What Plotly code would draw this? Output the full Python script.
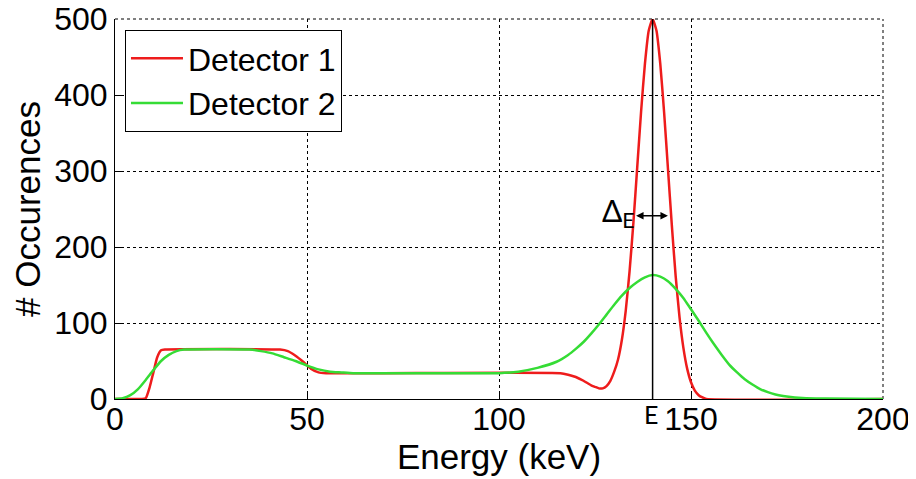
import plotly.graph_objects as go

# Detector 1 (red)
det1_x = [0, 7, 8, 9, 10, 11, 12, 13, 43, 45, 47, 49, 51, 53, 55, 116, 118, 120, 122, 124,
          125, 126, 127, 128, 129, 130, 131, 132, 133, 134, 135, 136, 137, 138, 139, 140,
          141, 142, 143, 144, 145, 146, 147, 148, 149, 150, 151, 152, 153, 154, 200]
det1_y = [0, 0, 1, 15, 35, 55, 64, 65, 65, 63, 57, 49, 40, 35, 34, 34, 32, 29, 24, 18,
          16, 14, 14, 17, 24, 36, 52, 78, 116, 168, 232, 305, 378, 441, 485, 500,
          485, 441, 377, 303, 229, 162, 108, 68, 40, 22, 11, 5, 2, 0, 0]

# Detector 2 (green)
det2_x = [0, 2, 4, 6, 8, 10, 12, 14, 16, 18, 35, 38, 41, 44, 47, 50, 53, 56, 59, 62, 65,
          100, 105, 110, 115, 118, 120, 122, 124, 126, 128, 130, 132, 134, 136, 138, 140,
          142, 144, 146, 148, 150, 152, 154, 156, 158, 160, 162, 164, 166, 168, 170, 172,
          174, 176, 178, 180, 185, 200]
det2_y = [0, 1, 5, 13, 25, 38, 50, 58, 63, 65, 65, 63, 60, 55, 50, 44, 39, 36, 35, 34, 34,
          34, 36, 41, 49, 58, 66, 75, 86, 98, 111, 124, 136, 146, 154, 160, 163,
          161, 155, 145, 133, 118, 103, 87, 72, 58, 45, 35, 26, 19, 13, 9, 6,
          4, 2.6, 1.6, 1, 0.5, 0]

x_ticks = [0, 50, 100, 150, 200]
y_ticks = [0, 100, 200, 300, 400, 500]
peak_E = 140
delta_left, delta_right, delta_y = 135.3, 144.0, 241

fig = go.Figure()
fig.add_trace(go.Scatter(x=det1_x, y=det1_y, mode="lines", name="Detector 1",
                         line=dict(color="#ee1c1c", width=2.5, shape="spline", smoothing=0.5)))
fig.add_trace(go.Scatter(x=det2_x, y=det2_y, mode="lines", name="Detector 2",
                         line=dict(color="#35dc35", width=2.5, shape="spline", smoothing=0.5)))

# dotted top / right box edges (MATLAB grid at range ends)
fig.add_shape(type="line", x0=0, x1=1, y0=1, y1=1, xref="paper", yref="paper",
              line=dict(color="black", width=1, dash="3px,3px"), layer="below")
fig.add_shape(type="line", x0=1, x1=1, y0=0, y1=1, xref="paper", yref="paper",
              line=dict(color="black", width=1, dash="3px,3px"), layer="below")

fig.add_shape(type="line", x0=peak_E, x1=peak_E, y0=0, y1=500, xref="x", yref="y",
              line=dict(color="black", width=1.5))

fig.add_annotation(x=delta_right, y=delta_y, ax=delta_left, ay=delta_y, axref="x", ayref="y",
                   xref="x", yref="y", text="", showarrow=True, arrowside="end+start",
                   arrowhead=2, arrowsize=1, arrowwidth=1.5, arrowcolor="black")
fig.add_annotation(x=delta_left, y=delta_y, xref="x", yref="y", text="Δ<sub>E</sub>",
                   showarrow=False, xanchor="right", yanchor="middle", xshift=1, yshift=4,
                   font=dict(family="Lato", size=30, color="black"))
fig.add_annotation(x=peak_E - 0.4, y=-0.04, xref="x", yref="paper", text="E",
                   showarrow=False, xanchor="center", yanchor="middle",
                   font=dict(family="Lato", size=25, color="black"))

axis_common = dict(showline=True, linecolor="black", linewidth=1, ticks="inside", ticklen=7,
                   tickcolor="black", showgrid=True, gridcolor="black", gridwidth=1,
                   griddash="3px,3px", zeroline=False, mirror=False, automargin=False,
                   ticklabeloverflow="allow",
                   tickfont=dict(family="Liberation Sans", size=32, color="black"))

fig.update_xaxes(range=[0, 200], tickvals=x_ticks, ticklabelstandoff=-8,
                 title=dict(text="Energy (keV)", standoff=0,
                            font=dict(family="Liberation Sans", size=35, color="black")),
                 **axis_common)
fig.update_yaxes(range=[0, 500], tickvals=y_ticks, ticklabelstandoff=0,
                 title=dict(text="# Occurences", standoff=19,
                            font=dict(family="Liberation Sans", size=35, color="black")),
                 **axis_common)

fig.update_layout(width=908, height=471, margin=dict(l=107, r=33, t=11, b=80),
                  plot_bgcolor="white", paper_bgcolor="white",
                  legend=dict(x=0.013, y=0.971, xanchor="left", yanchor="top",
                              bordercolor="black", borderwidth=1, bgcolor="white",
                              font=dict(family="Liberation Sans", size=32, color="black"),
                              tracegroupgap=0, itemwidth=52),
                  showlegend=True)

fig.write_html("out.html")
